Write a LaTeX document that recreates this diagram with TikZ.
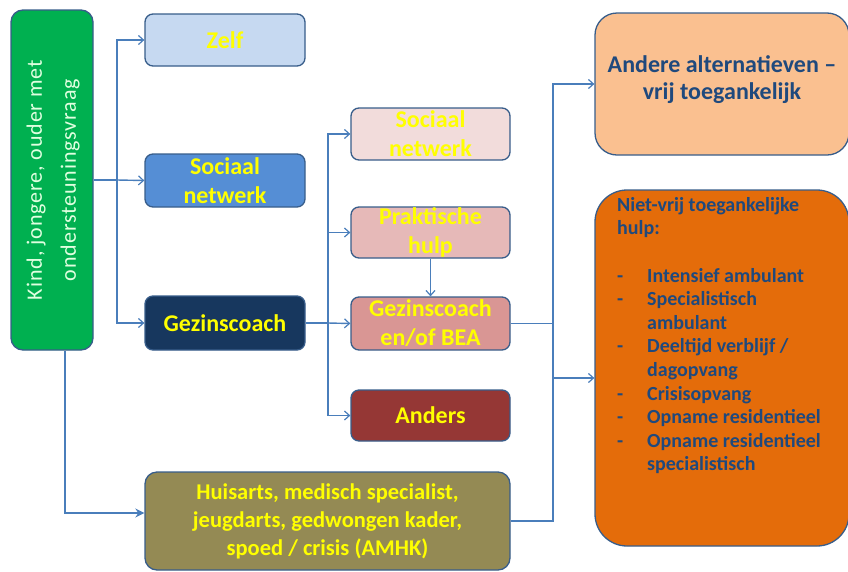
\documentclass[tikz,border=0pt]{standalone}
\usepackage{fontspec}
\setmainfont{Carlito}
\usetikzlibrary{arrows.meta}
\definecolor{conn}{HTML}{4A7EBB}
\definecolor{bord}{HTML}{385D8A}
\definecolor{ylw}{HTML}{FFFF00}
\definecolor{dblue}{HTML}{1F497D}
\definecolor{cgreen}{HTML}{00B050}
\definecolor{czelf}{HTML}{C6D9F1}
\definecolor{csoc}{HTML}{558ED5}
\definecolor{cgez}{HTML}{17375E}
\definecolor{csoc2}{HTML}{F2DCDB}
\definecolor{cprak}{HTML}{E6B9B8}
\definecolor{cgbea}{HTML}{D99694}
\definecolor{cand}{HTML}{953735}
\definecolor{chuis}{HTML}{948A54}
\definecolor{calt}{HTML}{FAC090}
\definecolor{cniet}{HTML}{E46C0A}
\tikzset{
  box/.style={draw=bord, line width=1.3pt, rounded corners=8pt, inner sep=0pt, align=center,
    text=ylw, font=\fontsize{24}{29}\selectfont\bfseries},
  conline/.style={draw=conn, line width=1.4pt},
  arr/.style={conline, -{Straight Barb[length=5pt,width=9pt,line width=1.2pt]}},
}
\begin{document}
\begin{tikzpicture}[x=1pt,y=-1pt]
\useasboundingbox (0,0) rectangle (848,571);
% left
\node[box, fill=cgreen, minimum width=82pt, minimum height=340pt, rounded corners=12pt,
  text=white!88!green] (green) at (52,180)
  {\rotatebox{90}{\fontsize{22}{34}\selectfont\mdseries\addfontfeature{LetterSpace=4}%
   \begin{tabular}{@{}c@{}}Kind, jongere, ouder met\\ ondersteuningsvraag\end{tabular}}};
% column 1
\node[box, fill=czelf, minimum width=160pt, minimum height=52pt] (zelf) at (225,40) {Zelf};
\node[box, fill=csoc, minimum width=160pt, minimum height=53pt] (soc1) at (225,180.5) {Sociaal\\netwerk};
\node[box, fill=cgez, minimum width=160pt, minimum height=54pt] (gez) at (225,323) {Gezinscoach};
% column 2
\node[box, fill=csoc2, minimum width=159pt, minimum height=52pt] (soc2) at (430.5,134) {Sociaal\\netwerk};
\node[box, fill=cprak, minimum width=159pt, minimum height=51pt] (prak) at (430.5,232.5) {Praktische\\hulp};
\node[box, fill=cgbea, minimum width=159pt, minimum height=53pt] (gbea) at (430.5,323.5) {Gezinscoach\\en/of BEA};
\node[box, fill=cand, minimum width=159pt, minimum height=51pt] (anders) at (430.5,415.5) {Anders};
% bottom
\node[box, fill=chuis, minimum width=365pt, minimum height=98pt, rounded corners=12pt,
  font=\fontsize{22.5}{28}\selectfont\bfseries] (huis) at (327.5,521)
  {Huisarts, medisch specialist,\\jeugdarts, gedwongen kader,\\spoed / crisis (AMHK)};
% right
\node[box, fill=calt, minimum width=254pt, minimum height=142pt, rounded corners=22pt,
  text=dblue, font=\fontsize{24}{27}\selectfont\bfseries] (andere) at (722,84)
  {Andere alternatieven –\\vrij toegankelijk\\[-14pt]\mbox{}};
\node[box, fill=cniet, minimum width=254pt, minimum height=356pt, rounded corners=32pt] (niet) at (722,368) {};
\node[anchor=north west, inner sep=0pt, align=left, text=dblue,
  font=\fontsize{20}{23.6}\selectfont\bfseries] (niettext) at (617,197)
  {Niet-vrij toegankelijke\\
   hulp:\\[23.6pt]
   \makebox[30pt][l]{-}Intensief ambulant\\
   \makebox[30pt][l]{-}Specialistisch\\
   \hspace*{30pt}ambulant\\
   \makebox[30pt][l]{-}Deeltijd verblijf /\\
   \hspace*{30pt}dagopvang\\
   \makebox[30pt][l]{-}Crisisopvang\\
   \makebox[30pt][l]{-}Opname residentieel\\
   \makebox[30pt][l]{-}Opname residentieel\\
   \hspace*{30pt}specialistisch};
% connectors group 1
\coordinate (j1) at (117,180);
\draw[conline] (green.east) -- (j1);
\draw[arr] (j1) |- (zelf.west);
\draw[arr] (j1) -- (soc1.west);
\draw[arr] (j1) |- (gez.west);
% group 2
\coordinate (j2) at (328,323);
\draw[conline] (gez.east) -- (j2);
\draw[arr] (j2) |- (soc2.west);
\draw[arr] (j2) |- (prak.west);
\draw[arr] (j2) -- (gbea.west);
\draw[arr] (j2) |- (anders.west);
\draw[arr] (prak.south) -- (gbea.north);
% group 3
\coordinate (j3) at (553,378);
\draw[conline] (gbea.east) -| (j3);
\draw[conline] (huis.east) -| (j3);
\draw[arr] (j3) |- (andere.west);
\draw[arr] (j3) -- (j3 -| niet.west);
% green to huisarts
\coordinate (k) at (65,513);
\draw[conline, -{Stealth[length=9pt,width=9pt]}] (green.south -| k) -- (k) -- (k -| huis.west);
\end{tikzpicture}
\end{document}
